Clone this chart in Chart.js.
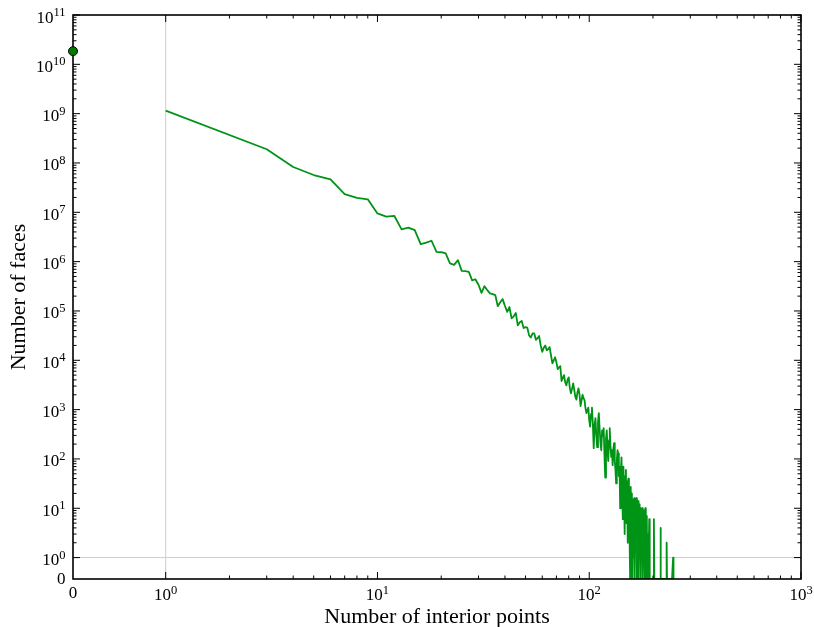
<!DOCTYPE html>
<html>
<head>
<meta charset="utf-8">
<script src="https://cdn.jsdelivr.net/npm/chart.js@4/dist/chart.umd.min.js"></script>
<style>
  html, body { margin: 0; padding: 0; background: #ffffff; }
  canvas { display: block; }
</style>
</head>
<body>
<canvas id="faces" width="814" height="627"></canvas>
<script>
// Number of faces with exactly n interior points, starting at n = 1.
// null marks a count that is not part of the series.
const firstInteriorPoints = 1;
const faceCounts = [
  1150000000, null, 190000000, 83000000, 57000000, 46500000, 23400000, 19700000, 18300000, 9500000,
  8200000, 8500000, 4500000, 4900000, 4350000, 2260000, 2430000, 2650000, 1580000, 1550000,
  1470000, 920000, 860000, 1070000, 650000, 640000, 620000, 416000, 440000, 340000,
  233000, 318000, 265000, 227000, 220000, 210000, 125000, 150000, 174000, 126000,
  96000, 120000, 71000, 78000, 91000, 51000, 59000, 63000, 45000, 47000,
  46000, 32000, 29000, 35000, 35000, 26000, 28000, 31000, 20000, 14800,
  18000, 20000, 16000, 16700, 18500, 12600, 8700, 10000, 11500, 9100,
  6600, 7200, 7600, 3800, 4400, 5000, 3600, 3100, 4000, 4500,
  2700, 2150, 2700, 3400, 2500, 1800, 1600, 2250, 2700, 2000,
  1180, 1550, 2000, 1700, 1550, 1070, 850, 980, 1100, 610,
  450, 820, 1100, 520, 165, 480, 670, 300, 173, 560,
  850, 400, 210, 150, 380, 290, 420, 120, 42, 260,
  380, 140, 90, 240, 420, 180, 110, 150, 75, 160,
  208, 90, 60, 32, 95, 150, 130, 45, 70, 10,
  55, 108, 30, 6, 70, 25, 3, 45, 60, 5,
  35, 2, 40, 8, 3, 0, 27, 2, 20, 0,
  15, 1, 16, 0, 12, 2, 16, 0, 9, 14,
  0, 12, 1, 10, 0, 8, 2, 10, 0, 6,
  1, 9, 0, 10, 2, 0, 7, 0, 3, 0,
  0, 6, 0, 0, 0, 0, 0, 0, 0, 0,
  0, 6, 0, 0, 0, 0, 0, 0, 0, 0,
  0, 0, 0, 0, 0, 0, 4, 0, 0, 0,
  0, 0, 0, 0, 0, 0, 0, 0, 0, 0,
  0, 2, 0, 0, 0, 0, 0, 0, 0, 0,
  0, 0, 0, 0, 0, 0, 0, 0, 1, 0
];
// Faces without any interior point
const facesWithoutInteriorPoints = 18500000000;

// Axis ticks
const xTickValues = [0, 1, 10, 100, 1000];
const xTickLabels = ['0', '10^0', '10^1', '10^2', '10^3'];
const yTickValues = [0, 1, 10, 1e2, 1e3, 1e4, 1e5, 1e6, 1e7, 1e8, 1e9, 1e10, 1e11];
const yTickLabels = ['0', '10^0', '10^1', '10^2', '10^3', '10^4', '10^5', '10^6',
                     '10^7', '10^8', '10^9', '10^10', '10^11'];

const xTitle = 'Number of interior points';
const yTitle = 'Number of faces';

// ---- symmetric log scale (linear between 0 and 1, log10 above) ----
function symlogForward(v, linscale) {
  const a = Math.abs(v);
  const t = a <= 1 ? a * linscale : linscale + Math.log10(a);
  return v < 0 ? -t : t;
}
function symlogInverse(t, linscale) {
  const a = Math.abs(t);
  const v = a <= linscale ? a / linscale : Math.pow(10, a - linscale);
  return t < 0 ? -v : v;
}
const majorTicksByAxis = { x: xTickValues, y: yTickValues };

class SymlogScale extends Chart.LinearScale {
  static id = 'symlog';
  static defaults = { linscale: 0.44 };
  buildTicks() {
    return (majorTicksByAxis[this.id] || []).map(v => ({ value: v }));
  }
  configure() {
    super.configure();
    const ls = this.options.linscale;
    this._t0 = symlogForward(this.min, ls);
    this._t1 = symlogForward(this.max, ls);
  }
  getPixelForValue(v) {
    const ls = this.options.linscale;
    return this.getPixelForDecimal((symlogForward(v, ls) - this._t0) / (this._t1 - this._t0));
  }
  getValueForPixel(p) {
    const ls = this.options.linscale;
    return symlogInverse(this._t0 + this.getDecimalForPixel(p) * (this._t1 - this._t0), ls);
  }
}
Chart.register(SymlogScale);

// ---- axes decoration: reference lines, frame, inward ticks, labels ----
const SERIF = '"Liberation Serif", "Times New Roman", serif';

function drawPowerLabel(ctx, text, x, y, align) {
  const parts = text.split('^');
  const base = parts[0], exp = parts[1];
  ctx.font = '17px ' + SERIF;
  const wb = ctx.measureText(base).width;
  let we = 0;
  if (exp) { ctx.font = '12.5px ' + SERIF; we = ctx.measureText(exp).width; }
  const total = wb + we;
  const start = align === 'right' ? x - total : (align === 'center' ? x - total / 2 : x);
  ctx.textAlign = 'left';
  ctx.textBaseline = 'alphabetic';
  ctx.font = '17px ' + SERIF;
  ctx.fillText(base, start, y);
  if (exp) {
    ctx.font = '12.5px ' + SERIF;
    ctx.fillText(exp, start + wb, y - 6.5);
  }
}

function minorValues(majors) {
  const out = [];
  majors.filter(v => v >= 1).slice(0, -1).forEach(dec => {
    for (let m = 2; m <= 9; m++) out.push(dec * m);
  });
  return out;
}

const axisDecor = {
  id: 'axisDecor',
  beforeDatasetsDraw(chart) {
    const { ctx, chartArea: a, scales: { x, y } } = chart;
    ctx.save();
    ctx.strokeStyle = '#cdcdcd';
    ctx.lineWidth = 1;
    const gx = x.getPixelForValue(1), gy = y.getPixelForValue(1);
    ctx.beginPath();
    ctx.moveTo(gx, a.top); ctx.lineTo(gx, a.bottom);
    ctx.moveTo(a.left, gy); ctx.lineTo(a.right, gy);
    ctx.stroke();
    ctx.restore();
  },
  afterDatasetDraw(chart, args) {
    if (args.index !== 0) return;
    const { ctx, chartArea: a, scales: { x, y } } = chart;
    ctx.save();
    ctx.strokeStyle = '#000000';
    // ticks
    ctx.lineWidth = 1;
    ctx.beginPath();
    const xt = (v, len) => {
      const p = x.getPixelForValue(v);
      ctx.moveTo(p, a.bottom); ctx.lineTo(p, a.bottom - len);
      ctx.moveTo(p, a.top); ctx.lineTo(p, a.top + len);
    };
    const yt = (v, len) => {
      const p = y.getPixelForValue(v);
      ctx.moveTo(a.left, p); ctx.lineTo(a.left + len, p);
      ctx.moveTo(a.right, p); ctx.lineTo(a.right - len, p);
    };
    xTickValues.filter(v => v > 0).forEach(v => xt(v, 7));
    yTickValues.filter(v => v > 0).forEach(v => yt(v, 7));
    minorValues(xTickValues).forEach(v => xt(v, 3.5));
    minorValues(yTickValues).forEach(v => yt(v, 3.5));
    ctx.stroke();
    // frame
    ctx.lineWidth = 1.6;
    ctx.strokeRect(a.left, a.top, a.right - a.left, a.bottom - a.top);
    ctx.restore();
  },
  afterDraw(chart) {
    const { ctx, chartArea: a, scales: { x, y } } = chart;
    ctx.save();
    ctx.fillStyle = '#000000';
    xTickValues.forEach((v, i) => {
      const lbl = xTickLabels[i];
      const base = lbl.indexOf('^') >= 0 ? a.bottom + 21 : a.bottom + 19;
      drawPowerLabel(ctx, lbl, x.getPixelForValue(v), base, 'center');
    });
    yTickValues.forEach((v, i) => {
      const lbl = yTickLabels[i];
      const p = y.getPixelForValue(v);
      const base = lbl.indexOf('^') >= 0 ? p + 7.5 : p + 5;
      drawPowerLabel(ctx, lbl, a.left - 7.5, base, 'right');
    });
    // axis titles
    ctx.font = '22px ' + SERIF;
    ctx.textAlign = 'center';
    ctx.textBaseline = 'alphabetic';
    ctx.fillText(xTitle, (a.left + a.right) / 2, 623);
    ctx.translate(25, (a.top + a.bottom) / 2);
    ctx.rotate(-Math.PI / 2);
    ctx.fillText(yTitle, 0, 0);
    ctx.restore();
  }
};

// ---- datasets ----
const lineData = faceCounts
  .map((count, i) => ({ x: firstInteriorPoints + i, y: count }))
  .filter(p => p.y !== null);

new Chart(document.getElementById('faces').getContext('2d'), {
  type: 'line',
  data: {
    datasets: [
      {
        label: 'faces',
        data: lineData,
        borderColor: 'rgb(0, 148, 22)',
        borderWidth: 1.8,
        borderJoinStyle: 'round',
        pointRadius: 0,
        tension: 0,
        fill: false,
        order: 1
      },
      {
        type: 'scatter',
        label: 'no interior points',
        data: [{ x: 0, y: facesWithoutInteriorPoints }],
        pointRadius: 4.5,
        pointBackgroundColor: '#007a00',
        pointBorderColor: '#000000',
        pointBorderWidth: 1,
        clip: false,
        order: 0
      }
    ]
  },
  options: {
    responsive: false,
    animation: false,
    devicePixelRatio: 1,
    layout: { padding: { left: 73, right: 13, top: 15, bottom: 48 } },
    plugins: { legend: { display: false }, tooltip: { enabled: false } },
    scales: {
      x: { type: 'symlog', min: 0, max: 1000, linscale: 0.4377, display: false },
      y: { type: 'symlog', min: 0, max: 1e11, linscale: 0.434, display: false }
    }
  },
  plugins: [axisDecor]
});
</script>
</body>
</html>
